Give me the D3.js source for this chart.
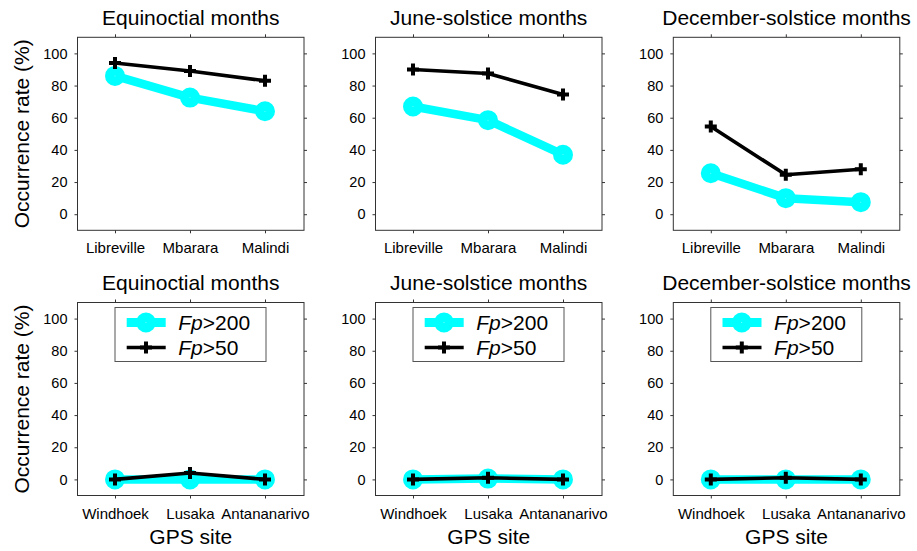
<!DOCTYPE html>
<html>
<head>
<meta charset="utf-8">
<script src="https://cdn.jsdelivr.net/npm/d3@7"></script>
<style>
  body { margin: 0; background: #fff; }
  text { font-family: "Liberation Sans", Arial, sans-serif; fill: #000; }
  .tick line { stroke: #333; }
  .domain { display: none; }
</style>
</head>
<body>
<div id="chart"></div>
<script>
// data
var seasons = ["Equinoctial months", "June-solstice months", "December-solstice months"];
var topSites = ["Libreville", "Mbarara", "Malindi"];
var bottomSites = ["Windhoek", "Lusaka", "Antananarivo"];
var yTicks = [0, 20, 40, 60, 80, 100];
var seriesNames = ["Fp>200", "Fp>50"];

var topFp200 = [[86, 72.5, 64], [67, 58.5, 37], [25.5, 10, 7.5]];
var topFp50 = [[94, 89, 83], [90, 87.5, 74.5], [54.5, 24.5, 28]];
var bottomFp200 = [[0, 0, 0], [0, 0.5, 0], [0, 0, 0]];
var bottomFp50 = [[0, 4, 0], [0, 1, 0], [0, 1, 0]];

var W = 917, H = 551;
var pw = 226.5, ph = 193;
var lefts = [77.5, 375.5, 673.3];
var tops = [37.3, 302.5];
var cyan = "#00ffff";

var svg = d3.select("#chart").append("svg")
    .attr("width", W)
    .attr("height", H);

var x = d3.scaleLinear().domain([0.5, 3.52]).range([0, pw]);
var y = d3.scaleLinear().domain([-10, 110]).range([ph, 0]);

var line = d3.line()
    .x(function (d, i) { return x(i + 1); })
    .y(function (d) { return y(d); });

function plusPath(s) {
    return "M" + (-s) + ",0H" + s + "M0," + (-s) + "V" + s;
}

function drawPanel(row, col) {
    var sites = row === 0 ? topSites : bottomSites;
    var fp200 = row === 0 ? topFp200[col] : bottomFp200[col];
    var fp50 = row === 0 ? topFp50[col] : bottomFp50[col];

    var g = svg.append("g")
        .attr("transform", "translate(" + lefts[col] + "," + tops[row] + ")");

    // axes, ticks outward on all four sides
    g.append("g")
        .attr("transform", "translate(0," + ph + ")")
        .call(d3.axisBottom(x).tickValues([1, 2, 3])
            .tickFormat(function (d) { return sites[d - 1]; })
            .tickSize(3).tickSizeOuter(0).tickPadding(9.5))
        .selectAll("text").style("font-size", "15px").style("font-family", null);
    g.append("g")
        .call(d3.axisTop(x).tickValues([1, 2, 3]).tickFormat("").tickSize(3).tickSizeOuter(0));
    g.append("g")
        .call(d3.axisLeft(y).tickValues(yTicks).tickSize(3).tickSizeOuter(0).tickPadding(7))
        .selectAll("text").style("font-size", "14.5px").style("font-family", null);
    g.append("g")
        .attr("transform", "translate(" + pw + ",0)")
        .call(d3.axisRight(y).tickValues(yTicks).tickFormat("").tickSize(3).tickSizeOuter(0));

    g.selectAll(".tick text").attr("fill", "#000");

    g.append("rect")
        .attr("width", pw)
        .attr("height", ph)
        .attr("fill", "none")
        .attr("stroke", "#333")
        .attr("stroke-width", 1);

    // Fp>200 series
    g.append("path")
        .datum(fp200)
        .attr("d", line)
        .attr("fill", "none")
        .attr("stroke", cyan)
        .attr("stroke-width", 8.5)
        .attr("stroke-linejoin", "round");
    g.selectAll(".c200")
        .data(fp200)
        .enter().append("circle")
        .attr("class", "c200")
        .attr("cx", function (d, i) { return x(i + 1); })
        .attr("cy", function (d) { return y(d); })
        .attr("r", 5.2)
        .attr("fill", "#fff")
        .attr("stroke", cyan)
        .attr("stroke-width", 9.6);

    // Fp>50 series
    g.append("path")
        .datum(fp50)
        .attr("d", line)
        .attr("fill", "none")
        .attr("stroke", "#000")
        .attr("stroke-width", 3.6)
        .attr("stroke-linejoin", "round");
    g.selectAll(".p50")
        .data(fp50)
        .enter().append("path")
        .attr("class", "p50")
        .attr("transform", function (d, i) { return "translate(" + x(i + 1) + "," + y(d) + ")"; })
        .attr("d", plusPath(6))
        .attr("stroke", "#000")
        .attr("stroke-width", 4);

    g.append("text")
        .attr("x", pw / 2)
        .attr("y", row === 0 ? 25 - tops[0] : 290 - tops[1])
        .attr("text-anchor", "middle")
        .style("font-size", "21px")
        .text(seasons[col]);

    if (col === 0) {
        g.append("text")
            .attr("transform", "translate(" + (29 - lefts[0]) + "," + (ph / 2) + ") rotate(-90)")
            .attr("text-anchor", "middle")
            .style("font-size", "21px")
            .text("Occurrence rate (%)");
    }

    if (row === 1) {
        g.append("text")
            .attr("x", pw / 2)
            .attr("y", ph + 48)
            .attr("text-anchor", "middle")
            .style("font-size", "21px")
            .text("GPS site");

        // legend
        var lg = g.append("g").attr("transform", "translate(37.5,5)");
        lg.append("rect")
            .attr("width", 151)
            .attr("height", 54)
            .attr("fill", "#fff")
            .attr("stroke", "#555")
            .attr("stroke-width", 1);

        lg.append("line")
            .attr("x1", 11.7).attr("x2", 50.7).attr("y1", 15).attr("y2", 15)
            .attr("stroke", cyan).attr("stroke-width", 9);
        lg.append("circle")
            .attr("cx", 31).attr("cy", 15).attr("r", 5.2)
            .attr("fill", "#fff").attr("stroke", cyan).attr("stroke-width", 9.6);

        lg.append("line")
            .attr("x1", 11.7).attr("x2", 50.7).attr("y1", 40).attr("y2", 40)
            .attr("stroke", "#000").attr("stroke-width", 3.6);
        lg.append("path")
            .attr("transform", "translate(31,40)")
            .attr("d", plusPath(6))
            .attr("stroke", "#000").attr("stroke-width", 4);

        lg.selectAll(".ltext")
            .data(seriesNames)
            .enter().append("text")
            .attr("class", "ltext")
            .attr("x", 63.3)
            .attr("y", function (d, i) { return 15 + i * 25; })
            .attr("dy", "0.36em")
            .style("font-size", "21px")
            .each(function (d) {
                var t = d3.select(this);
                t.append("tspan").style("font-style", "italic").text(d.slice(0, 2));
                t.append("tspan").text(d.slice(2));
            });
    }
}

for (var r = 0; r < 2; r++) {
    for (var c = 0; c < 3; c++) {
        drawPanel(r, c);
    }
}
</script>
</body>
</html>
